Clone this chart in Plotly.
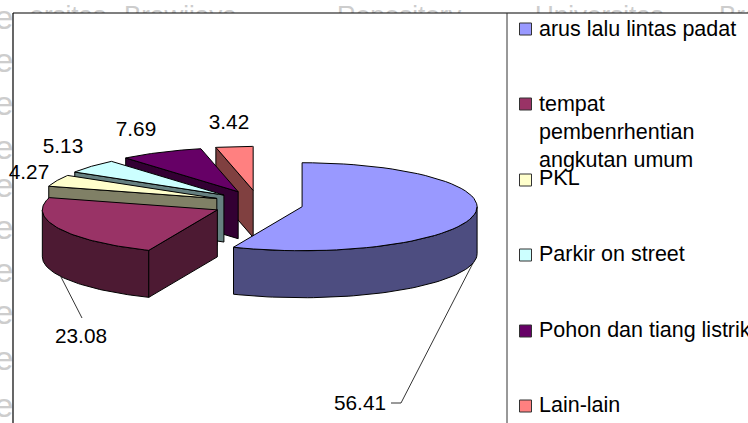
import numpy as np
import plotly.graph_objects as go

categories = ["arus lalu lintas padat", "tempat<br>pembenrhentian<br>angkutan umum", "PKL",
              "Parkir on street", "Pohon dan tiang listrik", "Lain-lain"]
values = [56.41, 23.08, 4.27, 5.13, 7.69, 3.42]
value_labels = ["56.41", "23.08", "4.27", "5.13", "7.69", "3.42"]
top_colors = ["#9999FF", "#993366", "#FFFFCC", "#CCFFFF", "#660066", "#FF8080"]
side_colors = ["#4D4D80", "#4D1A33", "#808066", "#668080", "#330033", "#804040"]
watermark_words = ["ersitas", "Brawijaya", "Repository", "Universitas", "Brawijaya"]
watermark_left = ["e"] * 10

W, H = 748, 423
CX, CY = 258, 204
RX, RY = 175, 44
DEPTH = 47
EX, EY = 45, 13.7
FONT = "Liberation Sans, Arial, sans-serif"
FS = 20.8
LEGEND_FS = 21.5
LINE = dict(color="#000000", width=1)
GREY = "#CDCDCD"

total = sum(values)
ends = np.cumsum(values) / total * 360
starts = np.concatenate([[0], ends[:-1]])

fig = go.Figure()


def poly(xs, ys, fill, line=LINE):
    fig.add_trace(go.Scatter(x=list(xs), y=list(ys), mode="lines", fill="toself", fillcolor=fill,
                             line=line, showlegend=False, hoverinfo="skip"))


def arc(ax, ay, a, b, n=60):
    t = np.radians(np.linspace(a, b, n))
    return ax + RX * np.sin(t), ay - RY * np.cos(t)


# faint page watermark, hidden by the chart's white area where it runs under it
fig.add_trace(go.Scatter(x=[106, 124, 337, 535, 719], y=[17] * 5, mode="text", text=watermark_words,
                         textposition=["middle left"] + ["middle right"] * 4,
                         textfont=dict(family=FONT, size=26, color=GREY),
                         showlegend=False, hoverinfo="skip"))
fig.add_trace(go.Scatter(x=[4] * 10, y=[20, 63, 106, 150, 188, 230, 273, 315, 361, 408], mode="text",
                         text=watermark_left, textposition="middle center",
                         textfont=dict(family=FONT, size=34, color=GREY),
                         showlegend=False, hoverinfo="skip"))
poly([13, W, W, 13, 13], [13, 13, H, H, 13], "#FFFFFF", line=dict(color="rgba(0,0,0,0)", width=0))

# drawn back to front, as the slices stack up on screen
for i in [5, 4, 3, 2, 1, 0]:
    a, b = starts[i], ends[i]
    mid = np.radians((a + b) / 2)
    ax = CX + EX * np.sin(mid)
    ay = CY - EY * np.cos(mid)
    # front of the rim
    lo, hi = max(a, 90), min(b, 270)
    if hi > lo:
        x, y = arc(ax, ay, lo, hi)
        poly(np.r_[x, x[::-1], x[0]], np.r_[y, y[::-1] + DEPTH, y[0]], side_colors[i])
    # cut face at the start of the slice, where it faces the viewer
    if np.sin(np.radians(a)) < -1e-6:
        ex, ey = arc(ax, ay, a, a, 1)
        poly([ax, ex[0], ex[0], ax, ax], [ay, ey[0], ey[0] + DEPTH, ay + DEPTH, ay], side_colors[i])
    # top face
    x, y = arc(ax, ay, a, b)
    poly(np.r_[ax, x, ax], np.r_[ay, y, ay], top_colors[i])

# leader lines
fig.add_trace(go.Scatter(x=[391, 401, 473], y=[403, 403, 263], mode="lines",
                         line=dict(color="#000000", width=0.8), showlegend=False, hoverinfo="skip"))
fig.add_trace(go.Scatter(x=[61, 82], y=[277, 318], mode="lines",
                         line=dict(color="#000000", width=0.8), showlegend=False, hoverinfo="skip"))

# value labels
label_x = [360, 81, 29, 63, 136, 229]
label_y = [405, 338, 174, 148, 131, 124]
fig.add_trace(go.Scatter(x=label_x, y=label_y, mode="text", text=value_labels,
                         textposition="middle center", textfont=dict(family=FONT, size=FS, color="#000000"),
                         showlegend=False, hoverinfo="skip"))

# legend
legend_y = [29, 104, 180, 255, 331, 406]
fig.add_trace(go.Scatter(x=[525.5] * 6, y=legend_y, mode="markers",
                         marker=dict(symbol="square", size=12, color=top_colors,
                                     line=dict(color="#333333", width=1)),
                         showlegend=False, hoverinfo="skip"))
legend_text_y = [29, 132, 178, 254, 330, 405]
for name, y in zip(categories, legend_text_y):
    fig.add_annotation(x=540, y=y, xref="x", yref="y", text=name, showarrow=False, xanchor="left",
                       yanchor="middle", align="left", font=dict(family=FONT, size=LEGEND_FS, color="#000000"),
                       xshift=-3)

# frame
fig.add_shape(type="line", x0=13, x1=13, y0=13, y1=H, line=dict(color="#000000", width=1.2), layer="above")
fig.add_shape(type="line", x0=13, x1=W, y0=13, y1=13, line=dict(color="#000000", width=1.2), layer="above")
fig.add_shape(type="line", x0=507, x1=507, y0=13, y1=H, line=dict(color="#333333", width=1), layer="above")

fig.update_layout(
    width=W, height=H, margin=dict(l=0, r=0, t=0, b=0), autosize=False,
    paper_bgcolor="#FFFFFF", plot_bgcolor="#FFFFFF", showlegend=False,
    xaxis=dict(range=[0, W], visible=False, fixedrange=True),
    yaxis=dict(range=[H, 0], visible=False, fixedrange=True),
)
fig.write_html("out.html", config={"displayModeBar": False},
               post_script="document.body.style.margin='0';document.body.style.overflow='hidden';")
